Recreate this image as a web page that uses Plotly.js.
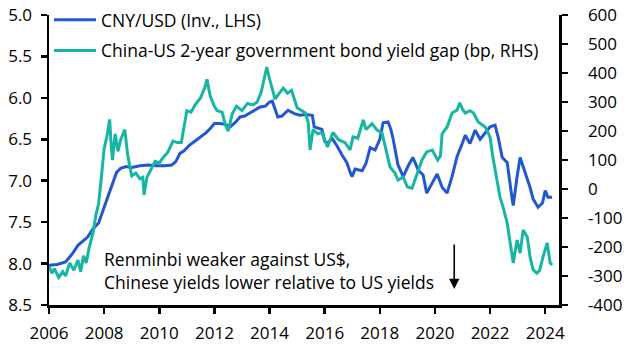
<!DOCTYPE html>
<html><head><meta charset="utf-8">
<script src="https://cdn.plot.ly/plotly-3.0.1.min.js"></script>
<style>html,body{margin:0;padding:0;background:#fff}#chart{width:627px;height:355px}</style>
</head><body><div id="chart"></div>
<script>
// CNY/USD (inverted, LHS)
const cnyYears = [2006.0,2006.3,2006.6,2006.85,2007.05,2007.25,2007.4,2007.6,2007.8,2008.0,2008.15,2008.3,2008.45,2008.6,2008.8,2009.0,2009.3,2009.6,2009.9,2010.2,2010.45,2010.6,2010.75,2010.9,2011.1,2011.3,2011.5,2011.7,2011.85,2012.0,2012.2,2012.4,2012.57,2012.75,2012.93,2013.1,2013.3,2013.5,2013.66,2013.85,2014.0,2014.1,2014.2,2014.3,2014.45,2014.67,2014.9,2015.1,2015.3,2015.55,2015.62,2015.75,2015.9,2016.0,2016.1,2016.27,2016.45,2016.63,2016.8,2016.95,2017.0,2017.1,2017.36,2017.5,2017.65,2017.83,2018.0,2018.12,2018.3,2018.4,2018.48,2018.66,2018.85,2019.03,2019.2,2019.39,2019.57,2019.7,2019.9,2020.08,2020.26,2020.44,2020.62,2020.8,2020.99,2021.1,2021.27,2021.46,2021.64,2021.82,2022.0,2022.18,2022.29,2022.44,2022.62,2022.8,2022.84,2022.98,2023.09,2023.27,2023.45,2023.56,2023.74,2023.9,2024.0,2024.1,2024.25];
const cnyValues = [8.02,8.01,7.98,7.88,7.78,7.72,7.68,7.58,7.51,7.32,7.18,7.03,6.90,6.85,6.83,6.84,6.82,6.81,6.82,6.82,6.81,6.77,6.67,6.64,6.57,6.52,6.47,6.42,6.37,6.31,6.31,6.32,6.35,6.30,6.23,6.22,6.18,6.14,6.11,6.10,6.05,6.04,6.15,6.23,6.22,6.15,6.19,6.21,6.20,6.21,6.35,6.36,6.38,6.52,6.55,6.49,6.58,6.69,6.78,6.92,6.95,6.86,6.88,6.79,6.60,6.63,6.50,6.30,6.29,6.38,6.49,6.81,6.95,6.82,6.72,6.87,6.93,7.15,7.03,6.92,7.08,7.15,6.95,6.71,6.55,6.45,6.55,6.39,6.50,6.42,6.35,6.33,6.47,6.72,6.78,7.22,7.30,6.95,6.72,6.90,7.08,7.22,7.32,7.27,7.12,7.20,7.20];

// China-US 2-year government bond yield gap (bp, RHS)
const gapYears = [2006.0,2006.1,2006.2,2006.35,2006.5,2006.6,2006.75,2006.9,2007.05,2007.15,2007.25,2007.35,2007.45,2007.6,2007.7,2007.8,2007.9,2008.0,2008.1,2008.2,2008.25,2008.3,2008.4,2008.5,2008.6,2008.75,2008.85,2009.0,2009.15,2009.3,2009.4,2009.45,2009.55,2009.7,2009.85,2010.0,2010.15,2010.3,2010.5,2010.65,2010.8,2011.0,2011.15,2011.3,2011.5,2011.65,2011.73,2011.85,2012.0,2012.1,2012.28,2012.4,2012.5,2012.65,2012.8,2013.0,2013.2,2013.4,2013.55,2013.7,2013.85,2013.9,2014.0,2014.1,2014.2,2014.35,2014.5,2014.65,2014.8,2015.0,2015.15,2015.3,2015.4,2015.47,2015.58,2015.75,2015.9,2016.1,2016.3,2016.5,2016.74,2016.92,2017.03,2017.2,2017.4,2017.5,2017.57,2017.72,2017.9,2018.08,2018.2,2018.37,2018.55,2018.66,2018.85,2019.0,2019.17,2019.35,2019.53,2019.7,2019.9,2020.1,2020.2,2020.26,2020.44,2020.62,2020.8,2020.9,2021.0,2021.1,2021.27,2021.4,2021.57,2021.82,2022.0,2022.1,2022.26,2022.36,2022.47,2022.62,2022.73,2022.84,2022.98,2023.09,2023.2,2023.35,2023.45,2023.56,2023.7,2023.8,2023.92,2024.07,2024.18,2024.25];
const gapValues = [-265,-290,-275,-305,-285,-300,-255,-280,-245,-285,-230,-255,-205,-150,-90,-50,40,140,180,240,160,100,190,130,170,205,120,45,55,35,40,-20,40,70,95,90,110,125,165,160,160,270,265,290,315,350,378,320,285,270,265,220,200,260,285,270,295,290,300,335,400,420,380,340,310,330,348,330,340,280,270,262,230,135,205,190,195,145,195,170,160,135,180,175,238,205,212,225,203,193,145,76,55,31,41,7,3,55,100,128,134,100,115,190,214,262,272,297,275,262,270,262,231,214,179,110,31,-28,-62,-117,-186,-255,-176,-221,-141,-166,-234,-279,-290,-280,-234,-186,-255,-262];

const xTicks = [2006,2008,2010,2012,2014,2016,2018,2020,2022,2024];
const leftTicks = [5.0,5.5,6.0,6.5,7.0,7.5,8.0,8.5];
const rightTicks = [600,500,400,300,200,100,0,-100,-200,-300,-400];

const FONT = 'Open Sans, sans-serif';
const BLUE = '#2157cf';
const TEAL = '#17b6a3';

const traces = [
  {x: gapYears, y: gapValues, yaxis: 'y2', type: 'scatter', mode: 'lines',
   name: 'China-US 2-year government bond yield gap (bp, RHS)',
   line: {color: TEAL, width: 3}, legendgroup: 'b', legendrank: 2},
  {x: cnyYears, y: cnyValues, type: 'scatter', mode: 'lines',
   name: 'CNY/USD (Inv., LHS)',
   line: {color: BLUE, width: 3}, legendgroup: 'a', legendrank: 1}
];

const axCommon = {showgrid: false, zeroline: false, showline: true, linecolor: '#000', linewidth: 2.5,
  ticks: 'outside', ticklen: 6, tickwidth: 2.5, tickcolor: '#000', automargin: false,
  tickfont: {family: FONT, size: 17, color: '#000'}};

const layout = {
  width: 627, height: 355,
  margin: {l: 49, r: 68, t: 15, b: 50, pad: 0, autoexpand: false},
  paper_bgcolor: '#fff', plot_bgcolor: '#fff',
  font: {family: FONT, size: 17, color: '#000'},
  xaxis: Object.assign({}, axCommon, {range: [2006, 2024.5], tickmode: 'array', tickvals: xTicks,
    ticktext: xTicks.map(String), ticklabelstandoff: 5}),
  yaxis: Object.assign({}, axCommon, {range: [8.5, 5.0], tickmode: 'array', tickvals: leftTicks,
    ticktext: leftTicks.map(v => v.toFixed(1)), ticklabelstandoff: 5}),
  yaxis2: Object.assign({}, axCommon, {range: [-400, 600], overlaying: 'y', side: 'right',
    tickmode: 'array', tickvals: rightTicks, ticktext: rightTicks.map(String), ticklabelstandoff: 17}),
  showlegend: true,
  legend: {x: 0.0, y: 1.045, xanchor: 'left', yanchor: 'top', bgcolor: 'rgba(0,0,0,0)',
    font: {family: FONT, size: 17.5, color: '#000'}, traceorder: 'grouped', tracegroupgap: 5,
    itemwidth: 42},
  annotations: [
    {xref: 'paper', yref: 'paper', x: 0.104, y: 0.119, xanchor: 'left', yanchor: 'middle', align: 'left',
     showarrow: false, text: 'Renminbi weaker against US$,<br>Chinese yields lower relative to US yields',
     font: {family: FONT, size: 17.5, color: '#000'}},
    {xref: 'x', yref: 'paper', x: 2020.7, y: 0.055, ax: 0, ay: -46, text: '', showarrow: true,
     arrowhead: 2, arrowsize: 1.3, arrowwidth: 1.6, arrowcolor: '#000'}
  ]
};

Plotly.newPlot('chart', traces, layout, {displayModeBar: false, staticPlot: true});
</script></body></html>
